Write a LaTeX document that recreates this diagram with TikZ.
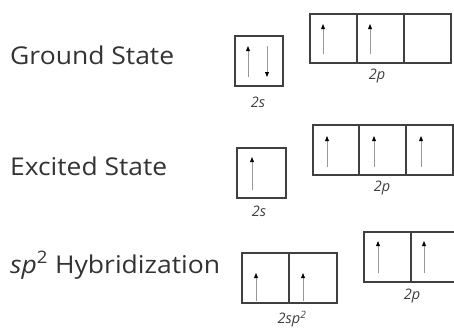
\documentclass[tikz,border=0pt]{standalone}
\usepackage{fontspec}
\usepackage{graphicx}
\setmainfont{Open Sans}
\usetikzlibrary{arrows.meta}
\begin{document}
\begin{tikzpicture}[x=1pt,y=-1pt,
  cell/.style={draw=black!75,line width=1.1pt,minimum width=47pt,minimum height=49pt,inner sep=0pt,outer sep=0pt},
  spin/.style={draw=black!40,line width=0.8pt,-{Triangle[length=5pt,width=3.8pt,black]}},
  state/.style={anchor=base west,inner sep=0pt,font=\fontsize{24.5}{27}\selectfont,text=black!80},
  orb/.style={inner sep=0pt,font=\fontsize{14.5}{15}\selectfont\itshape,text=black!75}]
\useasboundingbox (0,0) rectangle (454,327);
\begin{scope}
\clip (0,0) rectangle (454,327);
% Ground state
\node[state] (tg) at (10,64) {\resizebox{164pt}{\height}{Ground State}};
\node[cell,minimum width=48pt,minimum height=50pt] (g2s) at (259,61) {};
\node[cell] (gp1) at (333.5,38.5) {};
\node[cell] (gp2) at (380.5,38.5) {};
\node[cell] (gp3) at (427.5,38.5) {};
\node[orb] (lg2s) at (258,102) {2s};
\node[orb] (lg2p) at (377,76) {2p};
\draw[spin] (248,77) -- (248,46);
\draw[spin] (267,46) -- (267,77);
\draw[spin] (323,54) -- (323,24);
\draw[spin] (370,54) -- (370,24);
% Excited state
\node[state] (te) at (10,175) {\resizebox{157pt}{\height}{Excited State}};
\node[cell,minimum width=49pt,minimum height=50pt] (e2s) at (261.5,173) {};
\node[cell,minimum width=46pt,minimum height=50pt] (ep1) at (336,150) {};
\node[cell,minimum width=47pt,minimum height=50pt] (ep2) at (382.5,150) {};
\node[cell,minimum width=47pt,minimum height=50pt] (ep3) at (429.5,150) {};
\node[orb] (le2s) at (259,211) {2s};
\node[orb] (le2p) at (382,188) {2p};
\draw[spin] (252,190) -- (252,157);
\draw[spin] (327,167) -- (327,136);
\draw[spin] (374,167) -- (374,136);
\draw[spin] (421,167) -- (421,136);
% sp2 hybridization
\node[state] (th) at (10,273) {\resizebox{210pt}{\height}{\textit{sp}\textsuperscript{2} Hybridization}};
\node[cell,minimum width=47pt,minimum height=50pt] (hs1) at (265.5,278) {};
\node[cell,minimum width=48pt,minimum height=50pt] (hs2) at (313,278) {};
\node[cell,minimum width=47pt,minimum height=50pt] (hp1) at (387.5,257) {};
\node[cell,minimum width=47pt,minimum height=50pt] (hp2) at (434.5,257) {};
\node[orb] (lhs) at (292,319) {2sp\textsuperscript{2}};
\node[orb] (lhp) at (412,296) {2p};
\draw[spin] (256,301) -- (256,273);
\draw[spin] (303,301) -- (303,273);
\draw[spin] (378,273) -- (378,241);
\draw[spin] (424,273) -- (424,241);
\end{scope}
\end{tikzpicture}
\end{document}
